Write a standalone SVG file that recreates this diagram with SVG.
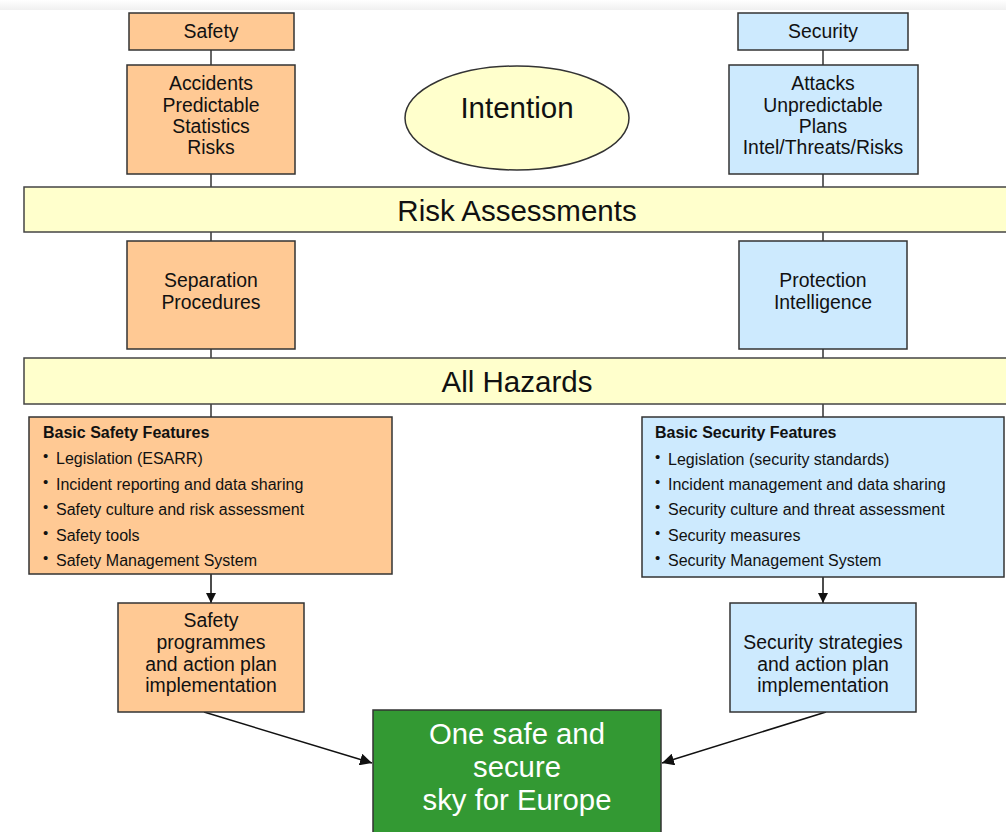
<svg xmlns="http://www.w3.org/2000/svg" width="1006" height="832" viewBox="0 0 1006 832">
<defs>
<linearGradient id="topfade" x1="0" y1="0" x2="0" y2="1">
<stop offset="0" stop-color="#ffffff"/><stop offset="1" stop-color="#f0f0f0"/>
</linearGradient>
<marker id="arr" viewBox="0 0 10 10" refX="10" refY="5" markerWidth="10" markerHeight="10" markerUnits="userSpaceOnUse" orient="auto">
<path d="M0,0 L10,5 L0,10 z" fill="#111"/>
</marker>
<marker id="arr2" viewBox="0 0 10 10" refX="10" refY="5" markerWidth="12" markerHeight="12" markerUnits="userSpaceOnUse" orient="auto">
<path d="M0,0 L10,5 L0,10 z" fill="#111"/>
</marker>
</defs>
<style>
.saf{fill:#ffc994;stroke:#333;stroke-width:1.5}
.sec{fill:#cdeafe;stroke:#333;stroke-width:1.5}
.bar{fill:#ffffcc;stroke:#444;stroke-width:1.5}
.t{font-family:"Liberation Sans",Arial,sans-serif;fill:#111;text-anchor:middle}
.m{font-size:19.4px}
.b{font-family:"Liberation Sans",Arial,sans-serif;fill:#111;font-size:16px}
.bt{font-weight:bold}
.d{font-family:"Liberation Sans",Arial,sans-serif;fill:#111;font-size:15px}
.c{stroke:#333;stroke-width:1.5;fill:none}
.a{stroke:#111;stroke-width:1.5;fill:none}
.w{fill:#fff;font-size:29.3px}
</style>
<rect x="0" y="0" width="1006" height="832" fill="#ffffff"/>
<rect x="0" y="0" width="1006" height="10" fill="url(#topfade)"/>
<g id="connectors">
<line class="c" x1="211" y1="50" x2="211" y2="65"/>
<line class="c" x1="211" y1="174" x2="211" y2="187"/>
<line class="c" x1="211" y1="232" x2="211" y2="241"/>
<line class="c" x1="211" y1="349" x2="211" y2="358"/>
<line class="c" x1="211" y1="404" x2="211" y2="417"/>
<line class="c" x1="823" y1="50" x2="823" y2="65"/>
<line class="c" x1="823" y1="174" x2="823" y2="187"/>
<line class="c" x1="823" y1="232" x2="823" y2="241"/>
<line class="c" x1="823" y1="349" x2="823" y2="358"/>
<line class="c" x1="823" y1="404" x2="823" y2="417"/>
<line class="a" x1="211" y1="574" x2="211" y2="603" marker-end="url(#arr)"/>
<line class="a" x1="823" y1="577" x2="823" y2="603" marker-end="url(#arr)"/>
<line class="a" x1="204" y1="712" x2="372" y2="763" marker-end="url(#arr2)"/>
<line class="a" x1="826" y1="712" x2="662" y2="763" marker-end="url(#arr2)"/>
</g>
<g id="safety">
<rect class="saf" x="129" y="13" width="165" height="37"/>
<text class="t m" x="211" y="38">Safety</text>
</g>
<g id="accidents">
<rect class="saf" x="127" y="65" width="168" height="109"/>
<text class="t m" x="211" y="90">Accidents</text>
<text class="t m" x="211" y="112">Predictable</text>
<text class="t m" x="211" y="133">Statistics</text>
<text class="t m" x="211" y="154">Risks</text>
</g>
<g id="intention">
<ellipse cx="517" cy="118" rx="112" ry="52" fill="#ffffcc" stroke="#333" stroke-width="1.5"/>
<text class="t" x="517" y="118" font-size="29.5">Intention</text>
</g>
<g id="security">
<rect class="sec" x="738" y="13" width="170" height="37"/>
<text class="t m" x="823" y="38">Security</text>
</g>
<g id="attacks">
<rect class="sec" x="729" y="65" width="189" height="109"/>
<text class="t m" x="823" y="90">Attacks</text>
<text class="t m" x="823" y="112">Unpredictable</text>
<text class="t m" x="823" y="133">Plans</text>
<text class="t m" x="823" y="154">Intel/Threats/Risks</text>
</g>
<g id="risk-assessments">
<rect class="bar" x="24" y="187" width="990" height="45"/>
<text class="t" x="517" y="221" font-size="29.5">Risk Assessments</text>
</g>
<g id="separation">
<rect class="saf" x="127" y="241" width="168" height="108"/>
<text class="t m" x="211" y="287">Separation</text>
<text class="t m" x="211" y="309">Procedures</text>
</g>
<g id="protection">
<rect class="sec" x="739" y="241" width="168" height="108"/>
<text class="t m" x="823" y="287">Protection</text>
<text class="t m" x="823" y="309">Intelligence</text>
</g>
<g id="all-hazards">
<rect class="bar" x="24" y="358" width="990" height="46"/>
<text class="t" x="517" y="392" font-size="29.5">All Hazards</text>
</g>
<g id="basic-safety">
<rect class="saf" x="29" y="417" width="363" height="157"/>
<text class="b bt" x="43" y="438">Basic Safety Features</text>
<text class="d" x="43" y="461">•</text><text class="b" x="56" y="464">Legislation (ESARR)</text>
<text class="d" x="43" y="487">•</text><text class="b" x="56" y="490">Incident reporting and data sharing</text>
<text class="d" x="43" y="512">•</text><text class="b" x="56" y="515">Safety culture and risk assessment</text>
<text class="d" x="43" y="538">•</text><text class="b" x="56" y="541">Safety tools</text>
<text class="d" x="43" y="563">•</text><text class="b" x="56" y="566">Safety Management System</text>
</g>
<g id="basic-security">
<rect class="sec" x="642" y="417" width="362" height="160"/>
<text class="b bt" x="655" y="438">Basic Security Features</text>
<text class="d" x="655" y="462">•</text><text class="b" x="668" y="465">Legislation (security standards)</text>
<text class="d" x="655" y="487">•</text><text class="b" x="668" y="490">Incident management and data sharing</text>
<text class="d" x="655" y="512">•</text><text class="b" x="668" y="515">Security culture and threat assessment</text>
<text class="d" x="655" y="538">•</text><text class="b" x="668" y="541">Security measures</text>
<text class="d" x="655" y="563">•</text><text class="b" x="668" y="566">Security Management System</text>
</g>
<g id="safety-programmes">
<rect class="saf" x="118" y="603" width="186" height="109"/>
<text class="t m" x="211" y="627">Safety</text>
<text class="t m" x="211" y="649">programmes</text>
<text class="t m" x="211" y="671">and action plan</text>
<text class="t m" x="211" y="692">implementation</text>
</g>
<g id="security-strategies">
<rect class="sec" x="730" y="603" width="186" height="109"/>
<text class="t m" x="823" y="649">Security strategies</text>
<text class="t m" x="823" y="671">and action plan</text>
<text class="t m" x="823" y="692">implementation</text>
</g>
<g id="one-sky">
<rect x="373" y="710" width="288" height="130" fill="#339933" stroke="#333" stroke-width="1.5"/>
<text class="t w" x="517" y="744">One safe and</text>
<text class="t w" x="517" y="777">secure</text>
<text class="t w" x="517" y="810">sky for Europe</text>
</g>
</svg>
